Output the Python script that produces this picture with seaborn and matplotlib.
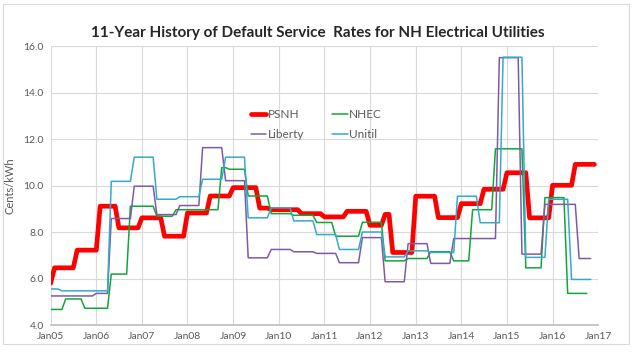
import matplotlib
matplotlib.use("Agg")
import matplotlib.pyplot as plt
import matplotlib.dates as mdates
from matplotlib.lines import Line2D
import pandas as pd
import seaborn as sns

# rate periods: first month of each rate, and rate in cents/kWh
psnh_start = ["2005-01", "2005-02", "2005-08", "2006-02", "2006-07", "2007-01", "2007-07",
              "2008-01", "2008-07", "2009-01", "2009-08", "2009-11", "2010-07", "2011-01",
              "2011-07", "2012-01", "2012-05", "2012-07", "2013-01", "2013-07", "2014-01",
              "2014-07", "2015-01", "2015-07", "2016-01", "2016-07"]
psnh_rate = [5.80, 6.46, 7.22, 9.11, 8.18, 8.61, 7.82, 8.82, 9.55, 9.91, 9.03, 8.96, 8.79,
             8.65, 8.89, 8.29, 8.76, 7.12, 9.54, 8.62, 9.22, 9.84, 10.55, 8.61, 10.01, 10.91]
psnh_last = "2016-12"

nhec_start = ["2005-01", "2005-05", "2005-10", "2006-05", "2006-10", "2007-05", "2007-10",
              "2008-10", "2008-12", "2009-05", "2009-11", "2010-05", "2010-11", "2011-04",
              "2011-11", "2012-05", "2012-11", "2013-05", "2013-11", "2014-04", "2014-10",
              "2015-06", "2015-11", "2016-05"]
nhec_rate = [4.67, 5.12, 4.72, 6.19, 9.11, 8.68, 8.96, 10.77, 10.70, 9.55, 8.79, 8.72, 8.41,
             7.82, 8.42, 6.76, 6.86, 7.15, 6.76, 8.96, 11.58, 6.46, 9.48, 5.36]
nhec_last = "2016-10"

lib_start = ["2005-01", "2006-01", "2006-05", "2006-11", "2007-05", "2007-11", "2008-05",
             "2008-11", "2009-05", "2009-11", "2010-05", "2010-11", "2011-05", "2011-11",
             "2012-05", "2012-11", "2013-05", "2013-11", "2014-11", "2015-05", "2015-11",
             "2016-08"]
lib_rate = [5.25, 5.36, 8.58, 9.97, 8.75, 9.14, 11.63, 10.21, 6.89, 7.25, 7.15, 7.08, 6.68,
            7.76, 5.86, 7.50, 6.65, 7.72, 15.50, 7.05, 9.19, 6.86]
lib_last = "2016-11"

uni_start = ["2005-01", "2005-04", "2006-05", "2006-11", "2007-05", "2007-11", "2008-05",
             "2008-11", "2009-05", "2009-11", "2010-05", "2010-11", "2011-05", "2011-11",
             "2012-05", "2012-11", "2013-05", "2013-12", "2014-06", "2014-12", "2015-06",
             "2015-12", "2016-06"]
uni_rate = [5.55, 5.47, 10.18, 11.22, 9.41, 9.52, 10.27, 11.22, 8.61, 9.04, 8.48, 7.89, 7.25,
            8.00, 6.93, 7.19, 7.12, 9.54, 8.40, 15.52, 6.91, 9.41, 5.96]
uni_last = "2016-11"

year_ticks = [str(y) + "-01" for y in range(2005, 2018)]


def monthly_runs(starts, rates, last, name):
    # each rate holds from its start month to the month before the next one
    s = [pd.Timestamp(d) for d in starts]
    e = [d - pd.DateOffset(months=1) for d in s[1:]] + [pd.Timestamp(last)]
    rows = []
    for a, b, r in zip(s, e, rates):
        rows.append((a, r, name))
        rows.append((b, r, name))
    return pd.DataFrame(rows, columns=["date", "rate", "utility"])


series = [
    ("PSNH", psnh_start, psnh_rate, psnh_last, "#FF0000", 3.4),
    ("NHEC", nhec_start, nhec_rate, nhec_last, "#12A538", 1.1),
    ("Liberty", lib_start, lib_rate, lib_last, "#7D5BA6", 1.1),
    ("Unitil", uni_start, uni_rate, uni_last, "#37A9C9", 1.1),
]

sns.set_theme(style="whitegrid")
plt.rcParams["font.family"] = ["Lato", "DejaVu Sans"]

fig = plt.figure(figsize=(6.4, 3.54), dpi=100)
ax = fig.add_axes([0.0792, 0.0819, 0.8556, 0.788])

handles = {}
for name, st, rt, last, col, lw in series:
    df = monthly_runs(st, rt, last, name)
    sns.lineplot(data=df, x="date", y="rate", color=col, linewidth=lw,
                 estimator=None, sort=False, ax=ax, legend=False)
    handles[name] = Line2D([], [], color=col, linewidth=lw)

ax.set_xlim(pd.Timestamp(year_ticks[0]), pd.Timestamp(year_ticks[-1]))
ax.set_ylim(4, 16)
ax.set_yticks([4, 6, 8, 10, 12, 14, 16])
ax.yaxis.set_major_formatter(matplotlib.ticker.FormatStrFormatter("%.1f"))
ax.set_xticks([pd.Timestamp(t) for t in year_ticks])
ax.xaxis.set_major_formatter(mdates.DateFormatter("%b%y"))

ax.grid(True, color="#D9D9D9", linewidth=0.8)
for s in ax.spines.values():
    s.set_visible(False)
ax.spines["bottom"].set_visible(True)
ax.spines["bottom"].set_color("#BFBFBF")
ax.tick_params(axis="both", length=0, labelsize=7.5, labelcolor="#595959", pad=5)
ax.set_xlabel("")
ax.set_ylabel("Cents/kWh", fontsize=8, color="#595959", labelpad=6)

fig.suptitle("11-Year History of Default Service  Rates for NH Electrical Utilities",
             x=0.497, y=0.927, fontsize=11, fontweight="bold", color="#262626")

order = ["PSNH", "Liberty", "NHEC", "Unitil"]
ax.legend([handles[n] for n in order], order, ncol=2, frameon=False,
          loc="upper left", bbox_to_anchor=(0.355, 0.795), borderpad=0,
          handlelength=1.3, handletextpad=0.1, columnspacing=2.4,
          labelspacing=0.75, fontsize=8.5, labelcolor="#595959")

fig.add_artist(plt.Rectangle((0.005, 0.028), 0.978, 0.961, transform=fig.transFigure,
                             fill=False, edgecolor="#D9D9D9", linewidth=0.8))

fig.savefig("out.png", dpi=100)
